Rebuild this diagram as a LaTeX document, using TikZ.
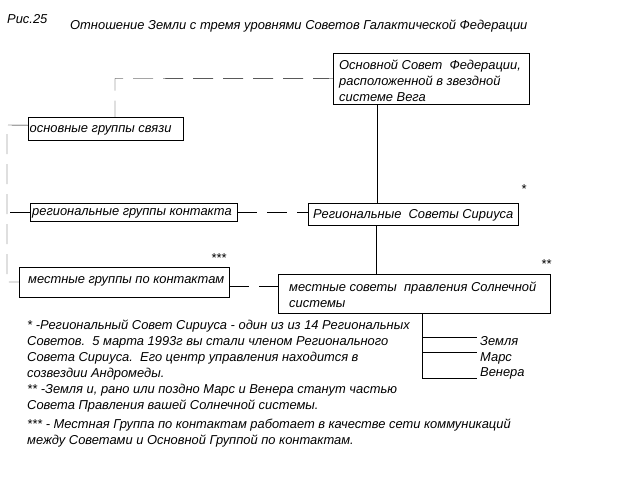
\documentclass[tikz,border=0pt]{standalone}
\usepackage{fontspec}
\setmainfont{Liberation Sans}
\usetikzlibrary{calc,positioning}
\tikzset{
        txt/.style = {font=\fontsize{12.9}{16}\selectfont\itshape},
        block/.style = {draw, rectangle, anchor=north west, inner sep=0pt},
        intext/.style = {txt, align=left, inner sep=0pt, anchor=west},
        plain/.style = {txt, anchor=base west, inner sep=0pt, align=left},
        planet/.style = {txt, anchor=base west, inner xsep=3pt, inner ysep=0pt},
        dashline/.style = {draw, dash pattern=on 20pt off 10pt},
        link/.style = {draw},
    }

\begin{document}
\begin{tikzpicture}[x=1pt,y=-1pt]
    \useasboundingbox (0,0) rectangle (640,480);

    % heading
    \node[plain] (fig) at (7,23) {Рис.25};
    \node[plain] (title) at (70,29.5) {Отношение Земли с тремя уровнями Советов Галактической Федерации};

    % councils
    \node[block, minimum width=196pt, minimum height=51pt] (vega) at (333,53) {};
    \node[intext, right=6pt of vega.west, yshift=-2pt] (vega text)
        {Основной Совет\ \ Федерации,\\расположенной в звездной\\системе Вега};
    \node[block, minimum width=210pt, minimum height=22pt] (sirius) at (308,203) {};
    \node[intext, right=5pt of sirius.west, yshift=-1.5pt] (sirius text) {Региональные\ \ Советы Сириуса};
    \node[block, minimum width=272pt, minimum height=39pt] (solar) at (278,274) {};
    \node[intext, right=11pt of solar.west, yshift=-1pt] (solar text)
        {местные советы\ \ правления Солнечной\\системы};

    % groups
    \node[block, minimum width=155pt, minimum height=23pt] (basic) at (28,117) {};
    \node[intext, right=1.5pt of basic.west, yshift=-1.5pt] (basic text) {основные группы связи};
    \node[block, minimum width=207pt, minimum height=18pt] (regional) at (30,203) {};
    \node[intext, right=2pt of regional.west, yshift=-1pt] (regional text) {региональные группы контакта};
    \node[block, minimum width=210pt, minimum height=30pt] (local) at (19,267) {};
    \node[intext, right=9pt of local.west, yshift=1pt] (local text) {местные группы по контактам};

    % stars
    \node[plain] (star1) at (521,193.5) {*};
    \node[plain] (star2) at (541,268.5) {**};
    \node[plain] (star3) at (211,262.5) {***};

    % planets
    \node[planet] (earth) at (477,345.5) {Земля};
    \node[planet] (mars) at (477,361.5) {Марс};
    \node[planet] (venus) at (477,376.5) {Венера};

    % solid links
    \draw[link] ([xshift=44pt]vega.south west) -- ([xshift=69pt]sirius.north west);
    \draw[link] ([xshift=68pt]sirius.south west) -- ([xshift=98pt]solar.north west);
    \coordinate (tree) at ([xshift=144pt]solar.south west);
    \draw[link] (tree) |- ([yshift=8.5pt]earth.base west);
    \draw[link] (tree) |- ([yshift=9.5pt]mars.base west);
    \draw[link] (tree) |- ([yshift=-1.5pt]venus.base west);

    % dashed links
    \coordinate (bend) at (115,78.5);
    \draw[dashline] (vega.west) -- (bend) -- (bend |- basic.north);
    \coordinate (spinetop) at (7,125);
    \coordinate (spinebot) at (7,282);
    \draw[dashline] ([yshift=3.5pt]basic.west) -- (spinetop) -- (spinebot) -- (spinebot -| local.west);
    \draw[dashline] (regional.west) -- (regional.west -| spinetop);
    \draw[dashline] (regional.east) -- (regional.east -| sirius.west);
    \draw[dashline] ([yshift=-4pt]local.east) -- ([yshift=-4pt]local.east -| solar.west);

    % footnotes (placed by the baseline of their last line)
    \node[plain] (note1) at (27,377.5)
        {* -Региональный Совет Сириуса - один из из 14 Региональных\\Советов.\ \ 5 марта 1993г вы стали членом Регионального\\Совета Сириуса.\ \ Его центр управления находится в\\созвездии Андромеды.};
    \node[plain] (note2) at (27,409)
        {** -Земля и, рано или поздно Марс и Венера станут частью\\Совета Правления вашей Солнечной системы.};
    \node[plain] (note3) at (27,444.5)
        {*** - Местная Группа по контактам работает в качестве сети коммуникаций\\между Советами и Основной Группой по контактам.};
\end{tikzpicture}
\end{document}
